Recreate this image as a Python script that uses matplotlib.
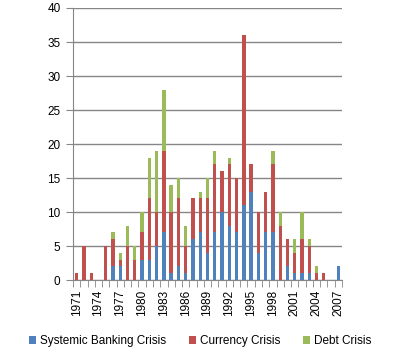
import matplotlib
matplotlib.use("Agg")
import matplotlib.pyplot as plt
import numpy as np

years = list(range(1971, 2008))
banking = [0,0,0,0,0,2,2,0,0,3,3,5,7,1,2,1,6,7,4,7,10,8,7,11,13,4,7,7,0,2,1,1,1,0,0,0,2]
currency = [1,5,1,0,5,4,1,5,3,4,9,5,12,9,10,4,6,5,8,10,6,9,8,25,4,6,6,10,8,4,3,5,4,1,1,0,0]
debt = [0,0,0,0,0,1,1,3,2,3,6,9,9,4,3,3,0,1,3,2,0,1,0,0,0,0,0,2,2,0,2,4,1,1,0,0,0]
series_names = ["Systemic Banking Crisis", "Currency Crisis", "Debt Crisis"]
colors = ["#4F81BD", "#C0504D", "#9BBB59"]

plt.rcParams['font.family'] = ['Liberation Sans', 'DejaVu Sans']
fig = plt.figure(figsize=(4.0, 3.55), dpi=100)
ax = fig.add_axes([0.1825, 0.211, 0.6725, 0.7665])

x = np.arange(len(years))
b = np.array(banking); c = np.array(currency); d = np.array(debt)
w = 0.46
ax.bar(x, b, width=w, color=colors[0], label=series_names[0], zorder=3)
ax.bar(x, c, width=w, bottom=b, color=colors[1], label=series_names[1], zorder=3)
ax.bar(x, d, width=w, bottom=b + c, color=colors[2], label=series_names[2], zorder=3)

ax.set_xlim(-0.5, len(years) - 0.5)
ax.set_ylim(0, 40)
ax.set_yticks(range(0, 41, 5))
ax.yaxis.grid(True, color="#868686", linewidth=1.0, zorder=0)
ax.tick_params(axis='y', length=5, color="#868686", labelsize=8.5, pad=4)

major = x[::3]
ax.set_xticks(major)
ax.set_xticklabels([str(years[i]) for i in major], rotation=90, fontsize=8.5)
ax.set_xticks(np.arange(-0.5, len(years), 1), minor=True)
ax.tick_params(axis='x', which='major', length=0, pad=7)
ax.tick_params(axis='x', which='minor', length=5, color="#868686")

for s in ["top", "right"]:
    ax.spines[s].set_visible(False)
for s in ["left", "bottom"]:
    ax.spines[s].set_color("#868686")

fig.legend(loc="center", bbox_to_anchor=(0.5, 14 / 355), ncol=3, frameon=False,
           fontsize=8.5, handlelength=0.6, handleheight=0.6, handletextpad=0.35,
           columnspacing=1.9)

fig.savefig("out.png", dpi=100)
